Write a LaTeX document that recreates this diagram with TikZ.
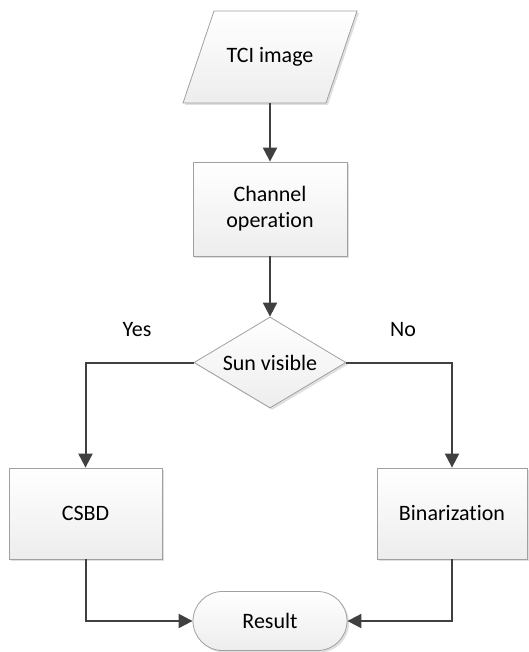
\documentclass[tikz,border=0pt]{standalone}
\usepackage{fontspec}
\setmainfont{Carlito}[Ligatures={NoCommon}]
\usetikzlibrary{arrows.meta,shadows,shapes.geometric}
\definecolor{arrowc}{HTML}{404040}
\definecolor{borderc}{HTML}{A0A0A0}
\definecolor{fillbot}{HTML}{EDEDED}
\tikzset{
  shapefill/.style={draw=borderc, line width=0.8pt, top color=white, bottom color=fillbot,
    drop shadow={shadow xshift=2pt,shadow yshift=-2pt,opacity=0.25}},
  txt/.style={font=\fontsize{22}{26}\selectfont, align=center, inner sep=0pt, text=black},
  procbox/.style={shapefill, txt, rectangle},
  decision/.style={shapefill, txt, diamond, aspect=1.67},
  terminal/.style={shapefill, txt, rectangle, rounded corners=29.5pt},
  arr/.style={draw=arrowc, line width=2pt, -{Triangle[width=14pt,length=14pt]}},
  lbl/.style={txt}
}
\begin{document}
\begin{tikzpicture}[x=1pt,y=-1pt]
\useasboundingbox (0,0) rectangle (528,652);
% parallelogram
\path[shapefill] (214,11) -- (357,11) -- (326,103) -- (183,103) -- cycle;
\node[txt, minimum width=144pt, minimum height=92pt] (tci) at (270,57) {TCI image};
\node[procbox, minimum width=154pt, minimum height=94pt] (chan) at (270,209) {Channel\\operation};
\node[decision, minimum width=152pt, minimum height=91pt] (sun) at (270,362.5) {Sun visible};
\node[procbox, minimum width=153pt, minimum height=91pt] (csbd) at (85.5,513.5) {CSBD};
\node[procbox, minimum width=150pt, minimum height=91pt] (bin) at (452,513.5) {Binarization};
\node[terminal, minimum width=154pt, minimum height=59pt] (res) at (270,621) {Result};
\node[lbl] (yes) at (137,330) {Yes};
\node[lbl] (no) at (403,330) {No};
\draw[arr] (tci.south) -- (chan.north);
\draw[arr] (chan.south) -- (sun.north);
\draw[arr] (sun.west) -| (csbd.north);
\draw[arr] (sun.east) -| (bin.north);
\draw[arr] (csbd.south) |- (res.west);
\draw[arr] (bin.south) |- (res.east);
\end{tikzpicture}
\end{document}
